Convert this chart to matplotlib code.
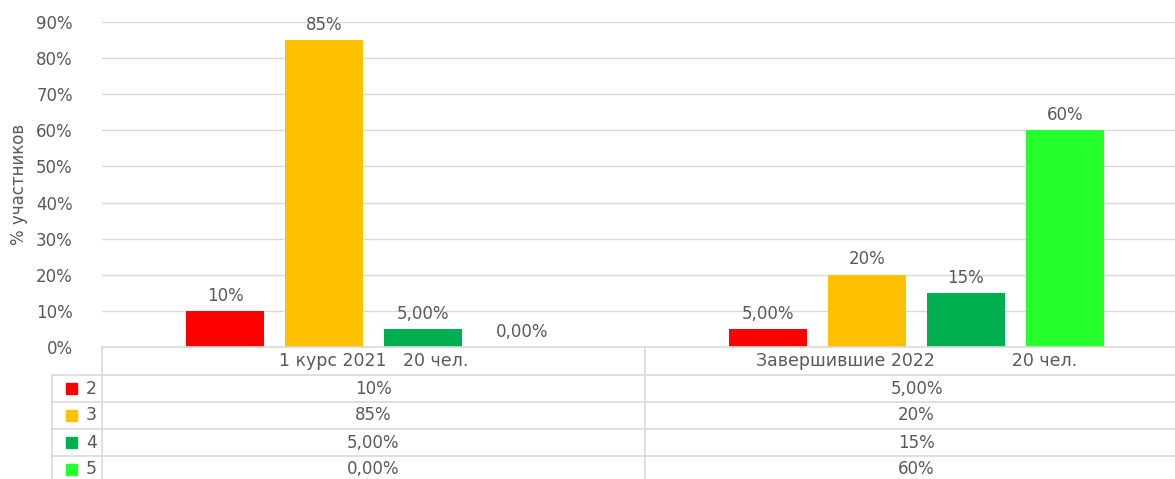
import matplotlib
matplotlib.use("Agg")
import matplotlib.pyplot as plt
import numpy as np
from matplotlib.patches import Rectangle

categories = ["1 курс 2021   20 чел.", "Завершившие 2022              20 чел."]
series_names = ["2", "3", "4", "5"]
values = {
    "2": [0.10, 0.05],
    "3": [0.85, 0.20],
    "4": [0.05, 0.15],
    "5": [0.00, 0.60],
}
labels = {
    "2": ["10%", "5,00%"],
    "3": ["85%", "20%"],
    "4": ["5,00%", "15%"],
    "5": ["0,00%", "60%"],
}
colors = {"2": "#FF0000", "3": "#FFC000", "4": "#00B050", "5": "#25FF2B"}
yticks = [0, 0.1, 0.2, 0.3, 0.4, 0.5, 0.6, 0.7, 0.8, 0.9]
ytick_labels = ["0%", "10%", "20%", "30%", "40%", "50%", "60%", "70%", "80%", "90%"]

W, H = 1175, 479
plt.rcParams['font.family'] = ['DejaVu Sans']
fig = plt.figure(figsize=(W / 100, H / 100), dpi=100)

def fx(px):
    return px / W

def fy(py):
    return 1 - py / H

ax_l, ax_r, ax_t, ax_b = 102, 1188, 22, 347
ax = fig.add_axes([fx(ax_l), fy(ax_b), fx(ax_r) - fx(ax_l), fy(ax_t) - fy(ax_b)])
txt = "#595959"
grid = "#D9D9D9"

n = len(series_names)
slot = 0.1823
x = np.arange(len(categories))
for i, s in enumerate(series_names):
    pos = x + (i - (n - 1) / 2) * slot
    ax.bar(pos, values[s], width=0.142, color=colors[s], zorder=3)
    for xp, v, lab in zip(pos, values[s], labels[s]):
        ax.annotate(lab, (xp, v), xytext=(0, 11), textcoords="offset points",
                    ha="center", va="center", fontsize=12, color=txt)

ax.set_xlim(-0.5, len(categories) - 0.5)
ax.set_ylim(0, 0.9)
ax.set_yticks(yticks)
ax.set_yticklabels(ytick_labels, fontsize=12, color=txt)
ax.tick_params(axis="y", length=0, pad=21)
ax.set_xticks([])
ax.yaxis.grid(True, color=grid, lw=1, zorder=0)
for sp in ax.spines.values():
    sp.set_visible(False)
ax.set_ylabel("% участников", fontsize=12, color=txt, labelpad=6)

# data table
lc = grid
row_y = [347, 375, 402, 429, 456, 483]
tab_left = 52
fig.add_artist(plt.Line2D([fx(ax_l), fx(ax_r)], [fy(347), fy(347)], color=lc, lw=1.2))
for yy in row_y[1:]:
    fig.add_artist(plt.Line2D([fx(tab_left), fx(ax_r)], [fy(yy), fy(yy)], color=lc, lw=1.2))
fig.add_artist(plt.Line2D([fx(ax_l), fx(ax_l)], [fy(347), fy(483)], color=lc, lw=1.2))
fig.add_artist(plt.Line2D([fx(tab_left), fx(tab_left)], [fy(375), fy(483)], color=lc, lw=1.2))
mid_px = (ax_l + ax_r) / 2
fig.add_artist(plt.Line2D([fx(mid_px), fx(mid_px)], [fy(347), fy(483)], color=lc, lw=1.2))

cat_centers = [ax_l + (ax_r - ax_l) * (i + 0.5) / len(categories) for i in range(len(categories))]
for c, cx in zip(categories, cat_centers):
    fig.text(fx(cx), fy((row_y[0] + row_y[1]) / 2), c, ha="center", va="center",
             fontsize=12.5, color=txt)
for r, s in enumerate(series_names):
    yc = (row_y[r + 1] + row_y[r + 2]) / 2
    fig.add_artist(Rectangle((fx(66), fy(yc + 5.5)), fx(11), 11 / H, color=colors[s],
                             transform=fig.transFigure))
    fig.text(fx(86), fy(yc), s, ha="left", va="center", fontsize=12.5, color=txt)
    for ci, cx in enumerate(cat_centers):
        fig.text(fx(cx), fy(yc), labels[s][ci], ha="center", va="center",
                 fontsize=12, color=txt)

fig.savefig("out.png", dpi=100)
